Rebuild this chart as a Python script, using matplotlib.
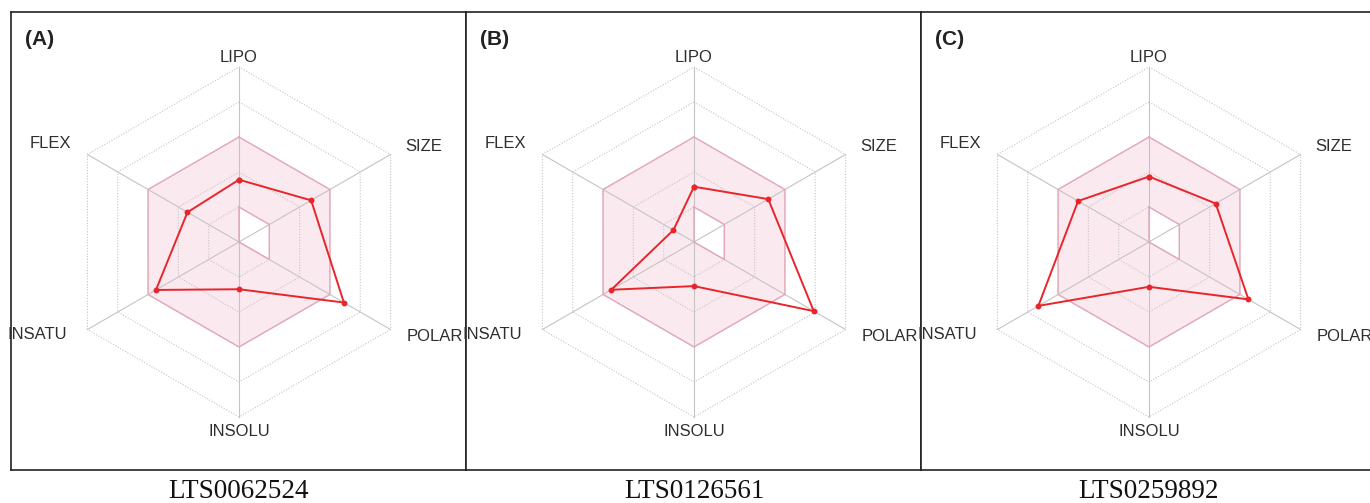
import numpy as np
import matplotlib
matplotlib.use("Agg")
import matplotlib.pyplot as plt
from matplotlib.path import Path
from matplotlib.patches import PathPatch

# Bioavailability radar data (radial units, 0 = centre, 5 = outer ring)
properties = ["LIPO", "SIZE", "POLAR", "INSOLU", "INSATU", "FLEX"]
compounds = ["LTS0062524", "LTS0126561", "LTS0259892"]
panel_tags = ["(A)", "(B)", "(C)"]

lts0062524 = [1.78, 2.38, 3.46, 1.35, 2.74, 1.70]
lts0126561 = [1.58, 2.45, 3.95, 1.26, 2.73, 0.68]
lts0259892 = [1.87, 2.20, 3.28, 1.28, 3.65, 2.34]
series = [lts0062524, lts0126561, lts0259892]

# Optimal physicochemical range (pink zone): lower and upper bound per axis
optimal_low = [1, 1, 1, 0, 0, 0]
optimal_high = [3, 3, 3, 3, 3, 3]
n_rings = 5

W, H = 1370, 503
fig = plt.figure(figsize=(W / 100, H / 100), dpi=100)

angles = np.deg2rad(90 - 60 * np.arange(len(properties)))
cosA, sinA = np.cos(angles), np.sin(angles)

unit = 35.0  # pixels per radial unit
panel_w, panel_top, panel_bot = 455, 12, 470
panel_lefts = [11, 466, 921]
cx_off, cy = 228, 242

grid_col = "#c4c4c4"
pink_fill = "#fbe9f0"
pink_edge = "#e3a7b8"
red = "#e8252b"
text_col = "#2e2e2e"


def xy(r):
    r = np.asarray(r, dtype=float)
    return r * cosA, r * sinA


for left, vals, name, tag in zip(panel_lefts, series, compounds, panel_tags):
    ax = fig.add_axes([left / W, (H - panel_bot) / H,
                       panel_w / W, (panel_bot - panel_top) / H])
    ax.set_xlim(-cx_off / unit, (panel_w - cx_off) / unit)
    ax.set_ylim(-(panel_bot - cy) / unit, (cy - panel_top) / unit)
    ax.set_xticks([])
    ax.set_yticks([])
    for sp in ax.spines.values():
        sp.set_color("#222222")
        sp.set_linewidth(1.2)

    # pink optimal zone with a hole at the lower bounds
    ox, oy = xy(optimal_high)
    ix, iy = xy(optimal_low)
    outer = list(zip(ox, oy)) + [(ox[0], oy[0])]
    inner = list(zip(ix, iy))[::-1] + [(ix[-1], iy[-1])]
    verts = outer + inner
    codes = ([Path.MOVETO] + [Path.LINETO] * (len(outer) - 2) + [Path.CLOSEPOLY]
             + [Path.MOVETO] + [Path.LINETO] * (len(inner) - 2) + [Path.CLOSEPOLY])
    ax.add_patch(PathPatch(Path(verts, codes), facecolor=pink_fill,
                           edgecolor="none", zorder=1))

    # dotted rings and solid spokes
    for k in range(1, n_rings + 1):
        rx, ry = xy([k] * len(properties))
        ax.plot(np.append(rx, rx[0]), np.append(ry, ry[0]), ls=(0, (1, 1.5)),
                color=grid_col, lw=0.8, zorder=2)
    for c, s in zip(cosA, sinA):
        ax.plot([0, n_rings * c], [0, n_rings * s], color=grid_col, lw=0.8, zorder=2)

    # zone boundaries
    ax.plot(np.append(ox, ox[0]), np.append(oy, oy[0]), color=pink_edge, lw=1.0, zorder=3)
    ax.plot(np.append(ix, ix[0]), np.append(iy, iy[0]), color=pink_edge, lw=1.0, zorder=3)

    # compound profile
    px, py = xy(vals)
    ax.plot(np.append(px, px[0]), np.append(py, py[0]), color=red, lw=1.4,
            marker="o", ms=3.2, zorder=4)

    # axis labels
    lab_kw = dict(fontsize=12, color=text_col, family="Liberation Sans")
    ax.text(0, 5.27, properties[0], ha="center", va="center", **lab_kw)
    ax.text(4.74, 2.74, properties[1], ha="left", va="center", **lab_kw)
    ax.text(4.80, -2.70, properties[2], ha="left", va="center", **lab_kw)
    ax.text(0, -5.40, properties[3], ha="center", va="center", **lab_kw)
    ax.text(-4.92, -2.63, properties[4], ha="right", va="center", **lab_kw)
    ax.text(-4.80, 2.80, properties[5], ha="right", va="center", **lab_kw)

    ax.text(14 / panel_w, 1 - 27 / (panel_bot - panel_top), tag,
            transform=ax.transAxes, ha="left", va="center",
            fontsize=15, fontweight="bold", color="#222222", family="Liberation Sans")

    fig.text((left + cx_off) / W, 1 - 492 / H, name, ha="center", va="center",
             fontsize=19.5, family="Liberation Serif", color="#111111")

fig.savefig("out.png", dpi=100)
